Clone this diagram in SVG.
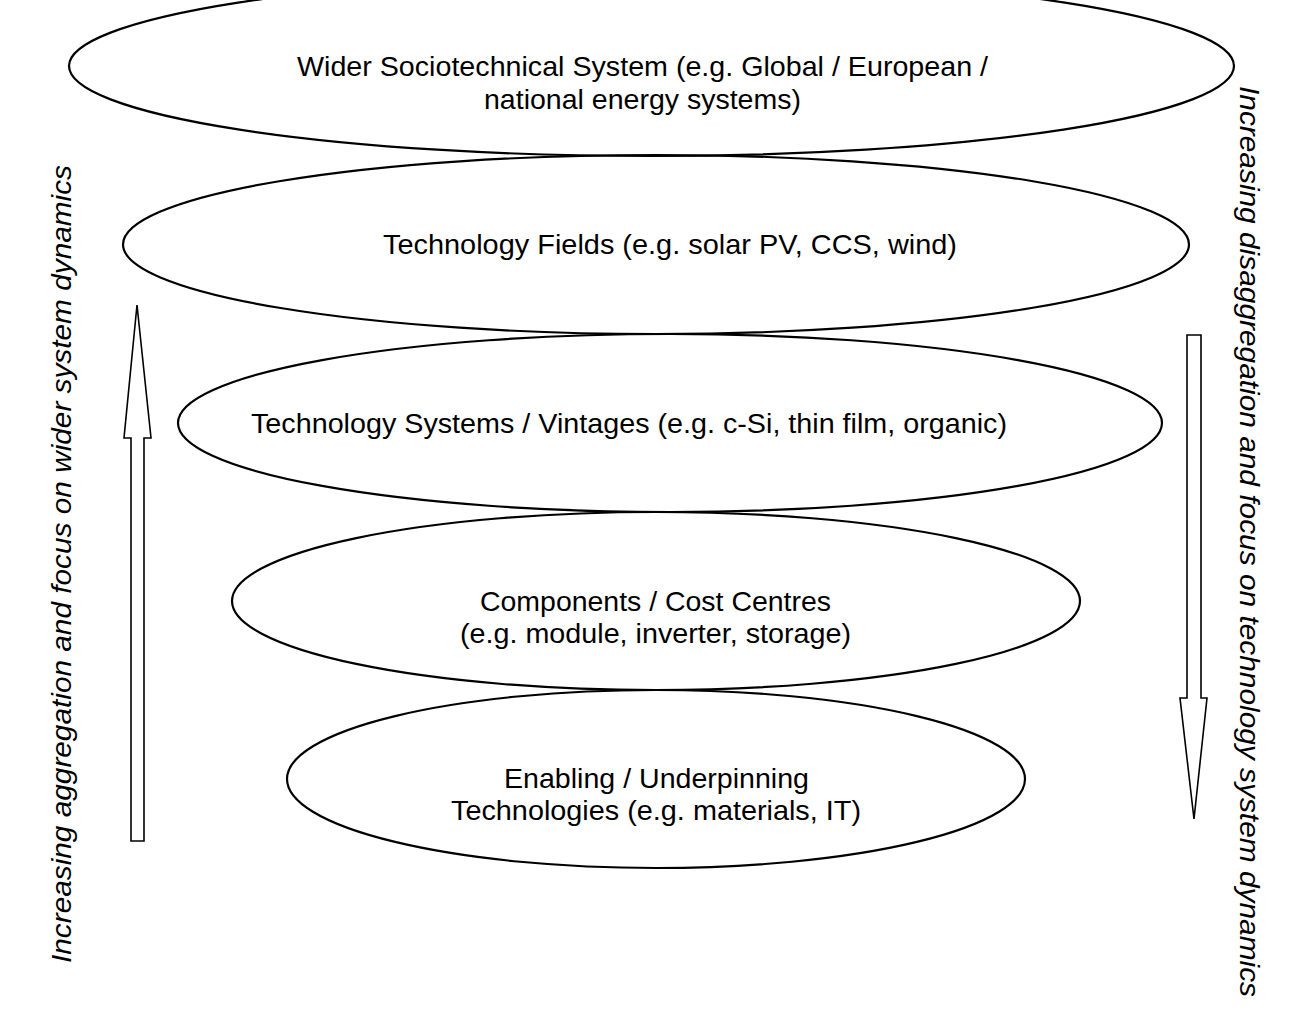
<svg xmlns="http://www.w3.org/2000/svg" width="1302" height="1032" viewBox="0 0 1302 1032">
<style>
.e{fill:none;stroke:#000;stroke-width:2.2}
.t{font-family:"Liberation Sans",Arial,sans-serif;font-size:27.5px;fill:#000;text-anchor:middle}
.v{font-style:italic;font-size:28.5px}
.a{fill:#fff;stroke:#000;stroke-width:1.6;stroke-linejoin:miter}
</style>
<rect width="1302" height="1032" fill="#fff"/>
<g id="wider">
<ellipse class="e" cx="651.5" cy="66" rx="582.5" ry="90"/>
<text class="t" x="642.5" y="76" textLength="691" lengthAdjust="spacingAndGlyphs">Wider Sociotechnical System (e.g. Global / European /</text>
<text class="t" x="642.5" y="109" textLength="317" lengthAdjust="spacingAndGlyphs">national energy systems)</text>
</g>
<g id="fields">
<ellipse class="e" cx="656" cy="244.5" rx="533" ry="89.5"/>
<text class="t" x="670" y="254" textLength="574" lengthAdjust="spacingAndGlyphs">Technology Fields (e.g. solar PV, CCS, wind)</text>
</g>
<g id="systems">
<ellipse class="e" cx="670" cy="423" rx="492" ry="89"/>
<text class="t" x="629" y="433" textLength="756" lengthAdjust="spacingAndGlyphs">Technology Systems / Vintages (e.g. c-Si, thin film, organic)</text>
</g>
<g id="components">
<ellipse class="e" cx="656" cy="601" rx="424" ry="89"/>
<text class="t" x="655.5" y="611" textLength="351" lengthAdjust="spacingAndGlyphs">Components / Cost Centres</text>
<text class="t" x="655.5" y="643" textLength="391" lengthAdjust="spacingAndGlyphs">(e.g. module, inverter, storage)</text>
</g>
<g id="enabling">
<ellipse class="e" cx="656" cy="779" rx="369" ry="89"/>
<text class="t" x="656.5" y="788" textLength="305" lengthAdjust="spacingAndGlyphs">Enabling / Underpinning</text>
<text class="t" x="656" y="820" textLength="410" lengthAdjust="spacingAndGlyphs">Technologies (e.g. materials, IT)</text>
</g>
<g id="connectors">
<polygon class="a" points="137,305 151,438 144,438 144,841 131,841 131,438 124,438"/>
<polygon class="a" points="1187,335 1201,335 1201,698 1207,698 1194,819 1180,698 1187,698"/>
</g>
<g id="labels">
<text class="t v" transform="translate(71,564) rotate(-90)" textLength="798" lengthAdjust="spacingAndGlyphs">Increasing aggregation and focus on wider system dynamics</text>
<text class="t v" transform="translate(1240,541.5) rotate(90)" textLength="911" lengthAdjust="spacingAndGlyphs">Increasing disaggregation and focus on technology system dynamics</text>
</g>
</svg>
